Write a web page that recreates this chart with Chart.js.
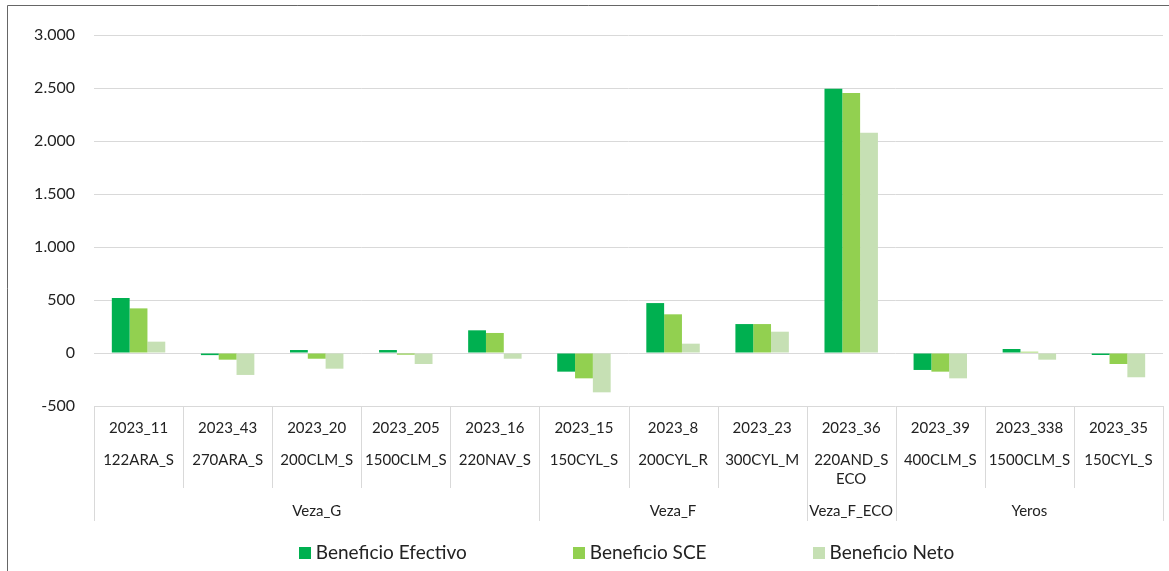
<!DOCTYPE html>
<html>
<head>
<meta charset="utf-8">
<script src="https://cdn.jsdelivr.net/npm/chart.js@4.4.0/dist/chart.umd.min.js"></script>
<style>
  html, body { margin: 0; padding: 0; background: #fff; }
  #wrap { width: 1169px; height: 571px; position: relative; }
</style>
</head>
<body>
<div id="wrap"><canvas id="beneficioChart"></canvas></div>
<script>
// Datos
const codigos = ['2023_11', '2023_43', '2023_20', '2023_205', '2023_16', '2023_15', '2023_8', '2023_23', '2023_36', '2023_39', '2023_338', '2023_35'];
const nombres = [['122ARA_S'], ['270ARA_S'], ['200CLM_S'], ['1500CLM_S'], ['220NAV_S'], ['150CYL_S'], ['200CYL_R'], ['300CYL_M'], ['220AND_S', 'ECO'], ['400CLM_S'], ['1500CLM_S'], ['150CYL_S']];
const grupoNombres = ['Veza_G', 'Veza_F', 'Veza_F_ECO', 'Yeros'];
const grupoTamanos = [5, 3, 1, 3];

const beneficioEfectivo = [520, -20, 28, 28, 214, -176, 471, 273, 2492, -160, 38, -19];
const beneficioSCE = [421, -63, -54, -16, 189, -239, 365, 273, 2452, -176, 12, -104];
const beneficioNeto = [107, -207, -148, -104, -54, -371, 88, 201, 2077, -239, -63, -229];

const yTicks = [-500, 0, 500, 1000, 1500, 2000, 2500, 3000];

const FONT = 'Lato, "Open Sans", sans-serif';
const TEXT = '#222';
const GRID = '#d9d9d9';

function fmtMiles(v) {
    const s = Math.abs(v).toString().replace(/\B(?=(\d{3})+(?!\d))/g, '.');
    return (v < 0 ? '-' : '') + s;
}

// Eje de categorías en varios niveles + leyenda + borde
const ejeMultinivel = {
    id: 'ejeMultinivel',
    beforeDraw(chart) {
        const ctx = chart.ctx;
        ctx.save();
        ctx.strokeStyle = '#666';
        ctx.lineWidth = 1;
        ctx.beginPath();
        ctx.moveTo(7.5, chart.height);
        ctx.lineTo(7.5, 5.5);
        ctx.lineTo(chart.width, 5.5);
        ctx.stroke();
        ctx.restore();
    },
    afterDraw(chart) {
        const ctx = chart.ctx;
        const xs = chart.scales.x;
        const n = codigos.length;
        const paso = xs.width / n;
        const top = xs.top;
        const bottom = xs.bottom;

        // límites de grupo
        const limites = new Set([0, n]);
        let acc = 0;
        grupoTamanos.forEach(t => { acc += t; limites.add(acc); });

        ctx.save();
        ctx.strokeStyle = GRID;
        ctx.lineWidth = 1;
        for (let i = 0; i <= n; i++) {
            const x = Math.round(xs.left + i * paso) + 0.5;
            ctx.beginPath();
            ctx.moveTo(x, top);
            ctx.lineTo(x, limites.has(i) ? bottom : top + 82);
            ctx.stroke();
        }

        ctx.fillStyle = TEXT;
        ctx.textAlign = 'center';
        ctx.textBaseline = 'middle';
        ctx.font = '15px ' + FONT;
        for (let i = 0; i < n; i++) {
            const x = xs.getPixelForValue(i);
            ctx.fillText(codigos[i], x, top + 22);
            nombres[i].forEach((t, k) => ctx.fillText(t, x, top + 54 + k * 19));
        }

        acc = 0;
        grupoNombres.forEach((g, j) => {
            const x = xs.left + (acc + grupoTamanos[j] / 2) * paso;
            ctx.fillText(g, x, bottom - 10);
            acc += grupoTamanos[j];
        });

        // leyenda
        ctx.font = '19px ' + FONT;
        ctx.textAlign = 'left';
        const ds = chart.data.datasets;
        const gap = 106, caja = 12, sep = 5;
        const anchos = ds.map(d => caja + sep + ctx.measureText(d.label).width);
        const total = anchos.reduce((a, b) => a + b, 0) + gap * (ds.length - 1);
        let x = (chart.chartArea.left + chart.chartArea.right) / 2 - 2 - total / 2;
        const yl = 553;
        ds.forEach((d, i) => {
            ctx.fillStyle = d.backgroundColor;
            ctx.fillRect(Math.round(x), yl - 6, caja, caja);
            ctx.fillStyle = TEXT;
            ctx.fillText(d.label, x + caja + sep, yl);
            x += anchos[i] + gap;
        });
        ctx.restore();
    }
};

const ctx = document.getElementById('beneficioChart').getContext('2d');
new Chart(ctx, {
    type: 'bar',
    data: {
        labels: codigos,
        datasets: [
            { label: 'Beneficio Efectivo', data: beneficioEfectivo, backgroundColor: '#00b050' },
            { label: 'Beneficio SCE', data: beneficioSCE, backgroundColor: '#92d050' },
            { label: 'Beneficio Neto', data: beneficioNeto, backgroundColor: '#c6e0b4' }
        ]
    },
    options: {
        responsive: true,
        maintainAspectRatio: false,
        animation: false,
        categoryPercentage: 0.6,
        barPercentage: 1,
        layout: { padding: { left: 0, top: 35, right: 6, bottom: 50 } },
        plugins: { legend: { display: false }, tooltip: { enabled: false } },
        scales: {
            x: {
                grid: { display: false },
                border: { display: false },
                ticks: { display: false },
                afterFit(scale) { scale.height = 115; }
            },
            y: {
                min: -500,
                max: 3000,
                afterFit(scale) { scale.width = 94; },
                afterBuildTicks(scale) { scale.ticks = yTicks.map(v => ({ value: v })); },
                grid: { color: GRID, drawTicks: false },
                border: { display: false },
                ticks: {
                    padding: 19,
                    color: TEXT,
                    font: { family: FONT, size: 16 },
                    callback: v => fmtMiles(v)
                }
            }
        }
    },
    plugins: [ejeMultinivel]
});
</script>
</body>
</html>
